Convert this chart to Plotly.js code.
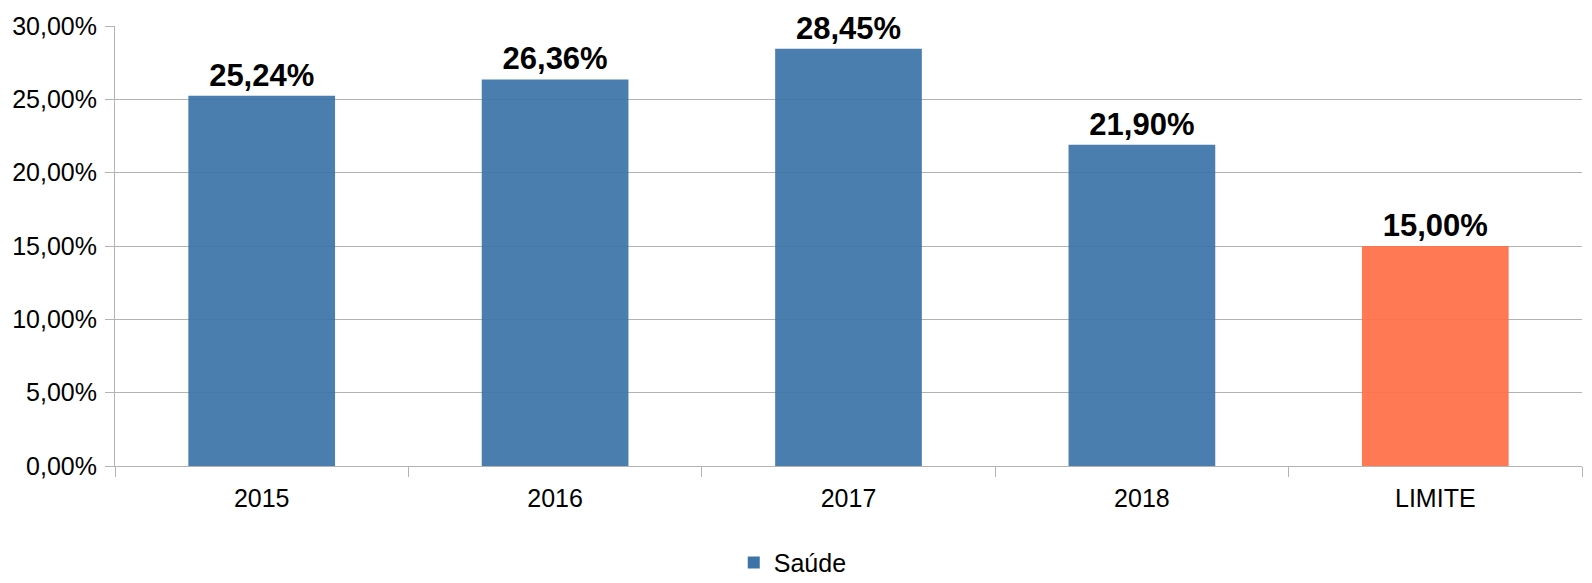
<!DOCTYPE html>
<html>
<head>
<meta charset="utf-8">
<script src="https://cdn.plot.ly/plotly-3.0.1.min.js"></script>
<style>html,body{margin:0;padding:0;background:#fff;overflow:hidden;width:1592px;height:583px;}#chart{width:1592px;height:583px;overflow:hidden;}</style>
</head>
<body>
<div id="chart"></div>
<script>
const categories = ["2015", "2016", "2017", "2018", "LIMITE"];
const saudeValues = [0.2524, 0.2636, 0.2845, 0.2190, 0.1500];
const barColors = ["#3c74a8", "#3c74a8", "#3c74a8", "#3c74a8", "#ff6f48"];
const seriesName = "Saúde";
const yTickValues = [0, 0.05, 0.10, 0.15, 0.20, 0.25, 0.30];

const trace = {
  type: "bar",
  x: categories,
  y: saudeValues,
  name: seriesName,
  width: 0.5,
  marker: { color: barColors, opacity: 0.93, line: { width: 0 } },
  texttemplate: "%{y:.2%}",
  textposition: "outside",
  cliponaxis: false,
  textfont: { family: "Liberation Sans, Arial, sans-serif", size: 31, color: "#000", weight: "bold" },
  showlegend: true,
  hoverinfo: "none"
};

const layout = {
  width: 1592,
  height: 583,
  margin: { l: 115, r: 10, t: 26, b: 117, autoexpand: false },
  paper_bgcolor: "#fff",
  plot_bgcolor: "#fff",
  separators: ",.",
  font: { family: "Liberation Sans, Arial, sans-serif", size: 25, color: "#000" },
  xaxis: {
    type: "category",
    automargin: false,
    showline: true,
    linecolor: "#b3b3b3",
    linewidth: 1,
    ticks: "outside",
    tickson: "boundaries",
    ticklen: 10,
    tickcolor: "#b3b3b3",
    showgrid: false,
    tickfont: { size: 25 },
    ticklabelstandoff: 10,
    zeroline: false
  },
  yaxis: {
    automargin: false,
    range: [0, 0.30],
    tickvals: yTickValues,
    tickformat: ".2%",
    showline: true,
    linecolor: "#b3b3b3",
    ticks: "outside",
    ticklen: 9,
    tickcolor: "#b3b3b3",
    showgrid: true,
    gridcolor: "#b3b3b3",
    gridwidth: 1,
    zeroline: false,
    tickfont: { size: 25 },
    ticklabelstandoff: 3
  },
  showlegend: true,
  legend: {
    orientation: "h",
    x: 0.462,
    xanchor: "center",
    y: -0.22,
    yanchor: "middle",
    font: { size: 25 },
    itemwidth: 30
  },
  bargap: 0.5
};

Plotly.newPlot("chart", [trace], layout, { displayModeBar: false, staticPlot: true });
</script>
</body>
</html>
